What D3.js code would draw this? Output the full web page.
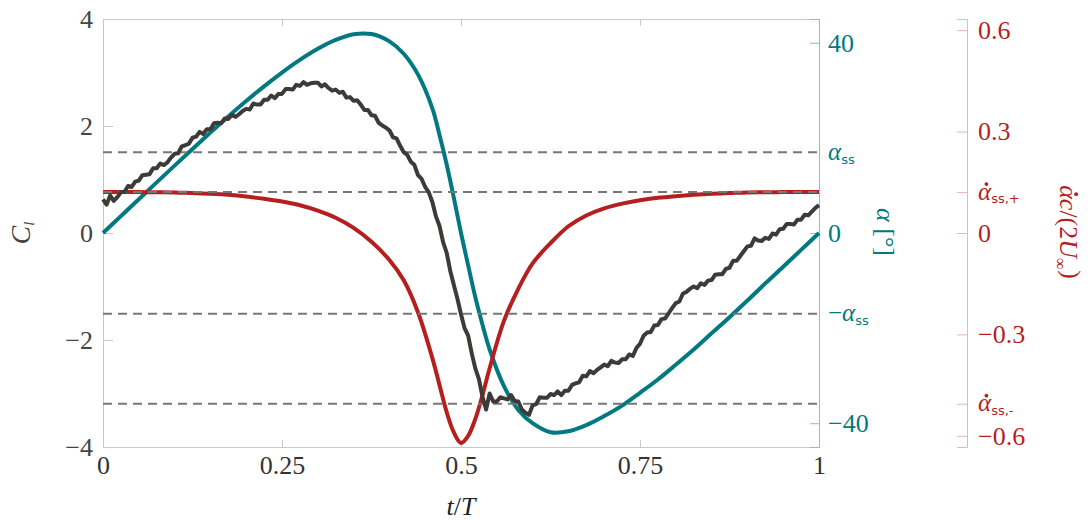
<!DOCTYPE html>
<html>
<head>
<meta charset="utf-8">
<script src="https://cdn.jsdelivr.net/npm/d3@7"></script>
<style>
body { margin: 0; background: #fff; }
text { font-family: "Liberation Serif", "Times New Roman", Tinos, "DejaVu Serif", serif; }
</style>
</head>
<body>
<div id="chart"></div>
<script>

// svg area
var svgWidth = 1088;
var svgHeight = 525;

// plot box (pixels inside the svg)
var plot = { left: 103, right: 819, top: 19, bottom: 447 };
var rateAxisX = 967;
var serif = '"Liberation Serif", "Times New Roman", Tinos, "DejaVu Serif", serif';

// colours
var teal = "#007a80";
var red = "#b51f1f";
var ink = "#3d3a38";

// ---- data ----
// lift coefficient, sampled every 0.005 t/T
var clStep = 0.005;
var clValues = [
  0.63,0.53,0.70,0.60,0.67,0.76,0.77,0.88,0.86,0.96,
  0.98,1.08,1.09,1.10,1.21,1.21,1.30,1.27,1.32,1.41,
  1.48,1.49,1.62,1.64,1.67,1.78,1.80,1.89,1.85,1.94,
  1.94,2.05,2.06,2.05,2.14,2.13,2.21,2.17,2.22,2.28,
  2.32,2.31,2.42,2.40,2.40,2.49,2.49,2.57,2.52,2.60,
  2.60,2.69,2.69,2.68,2.77,2.75,2.82,2.77,2.80,2.81,
  2.81,2.74,2.78,2.71,2.66,2.68,2.62,2.64,2.53,2.54,
  2.47,2.48,2.40,2.30,2.30,2.20,2.19,2.06,2.01,1.97,
  1.92,1.79,1.77,1.63,1.51,1.46,1.33,1.27,1.08,1.01,
  0.86,0.76,0.58,0.31,0.13,-0.17,-0.37,-0.71,-0.97,-1.23,
  -1.52,-1.78,-1.92,-2.25,-2.53,-2.73,-3.06,-3.30,-3.00,-3.15,
  -3.15,-3.07,-3.09,-3.11,-3.03,-3.14,-3.15,-3.30,-3.36,-3.40,
  -3.22,-3.20,-3.07,-3.08,-3.08,-3.01,-3.03,-2.96,-3.03,-2.95,
  -2.95,-2.84,-2.81,-2.79,-2.67,-2.68,-2.58,-2.62,-2.56,-2.51,
  -2.46,-2.49,-2.39,-2.42,-2.43,-2.36,-2.36,-2.27,-2.30,-2.15,
  -2.07,-1.92,-1.86,-1.85,-1.73,-1.72,-1.61,-1.60,-1.50,-1.40,
  -1.31,-1.28,-1.13,-1.10,-1.04,-1.00,-1.03,-0.94,-0.97,-0.89,
  -0.88,-0.78,-0.77,-0.77,-0.67,-0.65,-0.52,-0.52,-0.43,-0.34,
  -0.25,-0.24,-0.10,-0.14,-0.15,-0.09,-0.11,-0.01,-0.03,0.07,
  0.08,0.17,0.17,0.16,0.25,0.25,0.34,0.33,0.40,0.47,
  0.52
];

// angle of attack and its rate, same time samples
var motionT = [0,0.025,0.05,0.075,0.1,0.125,0.15,0.175,0.2,0.225,0.25,0.275,0.3,0.325,0.35,0.375,0.4,
  0.42,0.44,0.46,0.47,0.48,0.49,0.5,0.51,0.52,0.53,0.54,0.56,0.58,0.6,
  0.625,0.65,0.675,0.7,0.725,0.75,0.775,0.8,0.825,0.85,0.875,0.9,0.925,0.95,0.975,1];
var alphaDeg = [0,3.55,7.1,10.64,14.17,17.68,21.14,24.52,27.76,30.84,33.73,36.39,38.72,40.59,41.79,41.83,40.29,
  37.7,33.3,26.2,20.6,14.4,7.4,0,-6.8,-13.5,-19.3,-24.5,-32.2,-37.2,-40.0,
  -41.9,-41.7,-40.4,-38.5,-36.3,-33.6,-30.8,-27.7,-24.5,-21.1,-17.7,-14.2,-10.6,-7.1,-3.55,0];
var alphaRate = [0.121,0.121,0.121,0.1205,0.120,0.118,0.116,0.113,0.108,0.101,0.093,0.082,0.066,0.045,0.015,-0.026,-0.08,
  -0.14,-0.235,-0.37,-0.45,-0.53,-0.59,-0.621,-0.60,-0.55,-0.48,-0.40,-0.26,-0.165,-0.09,
  -0.03,0.02,0.052,0.073,0.087,0.097,0.104,0.109,0.113,0.116,0.118,0.12,0.1205,0.121,0.121,0.121];

// static-stall thresholds
var alphaSS = 17;
var rateSSPlus = 0.121;
var rateSSMinus = -0.505;

// tick labels
var xTicks = [0, 0.25, 0.5, 0.75, 1];
var clTicks = [-4, -2, 0, 2, 4];
var alphaTicks = [-40, 0, 40];
var rateTicks = [-0.6, -0.3, 0, 0.3, 0.6];

// ---- scales ----
var xScale = d3.scaleLinear().domain([0, 1]).range([plot.left, plot.right]);
var yCl = d3.scaleLinear().domain([-4, 4]).range([plot.bottom, plot.top]);
var yAlpha = d3.scaleLinear().domain([-45, 45]).range([plot.bottom, plot.top]);
var yRate = d3.scaleLinear().domain([-0.633, 0.633]).range([plot.bottom, plot.top]);

var svg = d3.select("#chart").append("svg")
  .attr("width", svgWidth)
  .attr("height", svgHeight);

var numFmt = function(d) { return String(d).replace("-", "\u2212"); };

function styleAxis(g, lineColor, textColor) {
  g.attr("font-family", null);
  g.select(".domain").attr("stroke", lineColor).attr("stroke-width", 1);
  g.selectAll(".tick line").attr("stroke", lineColor).attr("stroke-width", 1);
  g.selectAll(".tick text")
    .attr("fill", textColor)
    .style("font-family", serif)
    .style("font-size", "26px");
  // drop empty labels (mirror axes, threshold ticks)
  g.selectAll(".tick text").filter(function() { return this.textContent === ""; }).remove();
}

// dot over an alpha glyph (time derivative)
function addDot(parent, tspan, baseline, size, color) {
  var b = tspan.node().getBBox();
  parent.append("circle")
    .attr("cx", b.x + b.width * 0.6)
    .attr("cy", baseline - size * 0.62)
    .attr("r", size * 0.075)
    .attr("fill", color);
}

// bottom axis
var xAxis = svg.append("g")
  .attr("transform", `translate(0, ${plot.bottom})`)
  .call(d3.axisBottom(xScale).tickValues(xTicks).tickSize(-7).tickPadding(9).tickFormat(numFmt));
styleAxis(xAxis, "#c8c8c8", "#333");

// top mirror
var xTop = svg.append("g")
  .attr("transform", `translate(0, ${plot.top})`)
  .call(d3.axisTop(xScale).tickValues(xTicks).tickSize(-7).tickFormat(""));
styleAxis(xTop, "#c8c8c8", "#333");

// left axis
var yAxis = svg.append("g")
  .attr("transform", `translate(${plot.left}, 0)`)
  .call(d3.axisLeft(yCl).tickValues(clTicks).tickSize(-10).tickPadding(10).tickFormat(numFmt));
styleAxis(yAxis, "#c8c8c8", "#444");

// alpha axis (teal)
var aAxis = svg.append("g")
  .attr("transform", `translate(${plot.right}, 0)`)
  .call(d3.axisRight(yAlpha).tickValues(alphaTicks).tickSize(-9).tickPadding(9).tickFormat(numFmt));
styleAxis(aAxis, "#86c2c5", teal);

// rate axis (red)
var rAxis = svg.append("g")
  .attr("transform", `translate(${rateAxisX}, 0)`)
  .call(d3.axisRight(yRate).tickValues(rateTicks.concat([rateSSPlus, rateSSMinus]))
    .tickSize(-10).tickPadding(11)
    .tickFormat(function(d) { return rateTicks.indexOf(d) >= 0 ? numFmt(d) : ""; }));
styleAxis(rAxis, "#ecb4b4", red);

// special tick labels with subscripts
function subLabel(x, y, color, pre, dotted, sub) {
  var fs = 25;
  var base = y + 0.3 * fs;
  var t = svg.append("text")
    .attr("x", x).attr("y", base)
    .attr("fill", color)
    .style("font-size", fs + "px");
  if (pre) t.append("tspan").text(pre);
  var a = t.append("tspan").style("font-style", "italic").text("\u03B1");
  t.append("tspan")
    .attr("dy", "0.3em")
    .style("font-family", "'DejaVu Sans', sans-serif")
    .style("font-size", "13px")
    .text(sub);
  if (dotted) addDot(svg, a, base, fs, color);
}
subLabel(plot.right + 9, yAlpha(alphaSS), teal, "", false, "ss");
subLabel(plot.right + 9, yAlpha(-alphaSS), teal, "\u2212", false, "ss");
subLabel(rateAxisX + 11, yRate(rateSSPlus), red, "", true, "ss,+");
subLabel(rateAxisX + 11, yRate(rateSSMinus), red, "", true, "ss,-");

// ---- lines ----
var clData = clValues.map(function(v, i) { return { t: i * clStep, v: v }; });
var motion = motionT.map(function(t, i) { return { t: t, a: alphaDeg[i], r: alphaRate[i] }; });

svg.append("path")
  .datum(motion)
  .attr("fill", "none")
  .attr("stroke", teal)
  .attr("stroke-width", 4)
  .attr("d", d3.line().x(d => xScale(d.t)).y(d => yAlpha(d.a)).curve(d3.curveCatmullRom.alpha(0.5)));

svg.append("path")
  .datum(motion)
  .attr("fill", "none")
  .attr("stroke", red)
  .attr("stroke-width", 4)
  .attr("d", d3.line().x(d => xScale(d.t)).y(d => yRate(d.r)).curve(d3.curveCatmullRom.alpha(0.5)));

// dashed threshold lines
var dashYs = [yAlpha(alphaSS), yRate(rateSSPlus), yAlpha(-alphaSS), yRate(rateSSMinus)];
svg.selectAll(".thresh")
  .data(dashYs)
  .enter()
  .append("line")
  .attr("class", "thresh")
  .attr("x1", plot.left).attr("x2", plot.right)
  .attr("y1", d => d).attr("y2", d => d)
  .attr("stroke", "#777")
  .attr("stroke-width", 2)
  .attr("stroke-dasharray", "9,6");

svg.append("path")
  .datum(clData)
  .attr("fill", "none")
  .attr("stroke", ink)
  .attr("stroke-width", 4)
  .attr("stroke-linejoin", "round")
  .attr("d", d3.line().x(d => xScale(d.t)).y(d => yCl(d.v)));

// ---- axis titles ----
var xt = svg.append("text")
  .attr("x", (plot.left + plot.right) / 2)
  .attr("y", 515)
  .attr("text-anchor", "middle")
  .attr("fill", "#222")
  .style("font-size", "26px");
xt.append("tspan").style("font-style", "italic").text("t");
xt.append("tspan").text("/");
xt.append("tspan").style("font-style", "italic").text("T");

var yt = svg.append("text")
  .attr("transform", "translate(30, 233) rotate(-90)")
  .attr("text-anchor", "middle")
  .attr("fill", "#444")
  .style("font-size", "28px");
yt.append("tspan").style("font-style", "italic").text("C");
yt.append("tspan").attr("dy", "0.25em").style("font-size", "15px").style("font-style", "italic").text("l");

var at = svg.append("text")
  .attr("transform", "translate(877, 232) rotate(90)")
  .attr("text-anchor", "middle")
  .attr("fill", teal)
  .style("font-size", "26px");
at.append("tspan").style("font-style", "italic").text("\u03B1");
at.append("tspan").text(" [\u00B0]");

var rtGroup = svg.append("g").attr("transform", "translate(1060, 232) rotate(90)");
var rt = rtGroup.append("text")
  .attr("text-anchor", "middle")
  .attr("fill", red)
  .style("font-size", "26px");
var rtAlpha = rt.append("tspan").style("font-style", "italic").text("\u03B1");
rt.append("tspan").style("font-style", "italic").text("c");
rt.append("tspan").text("/(2");
rt.append("tspan").style("font-style", "italic").text("U");
rt.append("tspan").attr("dy", "0.3em").style("font-size", "17px").text("\u221E");
rt.append("tspan").attr("dy", "-0.3em").text(")");
addDot(rtGroup, rtAlpha, 0, 26, red);

</script>
</body>
</html>
